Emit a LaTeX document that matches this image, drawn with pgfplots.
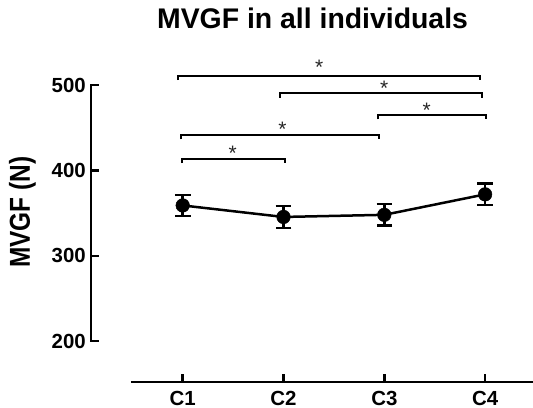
\documentclass[border=0pt]{standalone}
\usepackage{fontspec}
\setmainfont{Liberation Sans}
\usepackage{pgfplots}
\pgfplotsset{compat=1.18}

\begin{document}
\begin{tikzpicture}
\path[use as bounding box] (-91bp,-26bp) rectangle (442bp,382bp);
\begin{axis}[
    at={(0,0)}, anchor=south west,
    scale only axis,
    width=442.5bp, height=322.4bp,
    xmin=0.0903, xmax=4.48,
    ymin=152, ymax=530,
    clip=false,
    axis line style={draw=none},
    xtick pos=bottom, ytick pos=left,
    tick align=inside,
    major tick length=8bp,
    tick style={black, line width=2.5bp},
    xtick={1,2,3,4},
    xticklabels={C1,C2,C3,C4},
    ytick={200,300,400,500},
    /pgf/number format/assume math mode=true,
    ticklabel style={font=\fontsize{20.5}{24}\selectfont\bfseries, inner sep=0pt},
    yticklabel style={xshift=-5bp},
    xticklabel style={yshift=-9bp},
    title={MVGF in all individuals},
    title style={at={(0.5006,1.0785)}, anchor=base, font=\fontsize{28.5}{34}\selectfont\bfseries},
    ylabel={\scalebox{1}[1.18]{MVGF (N)}},
    ylabel style={at={(-0.155,0.527)}, anchor=center, font=\fontsize{24.5}{28}\selectfont\bfseries},
]
% axis lines (offset, GraphPad style)
\draw[black, line width=2.7bp, line cap=rect] (axis cs:0.0903,200) -- (axis cs:0.0903,500);
\draw[black, line width=2.7bp] (axis cs:0.487,152) -- (axis cs:4.48,152);

% means with error bars
\addplot[black, line width=2.5bp, mark=*, mark size=6.8bp,
    mark options={fill=black, line width=0.5bp},
    error bars/.cd, y dir=both, y explicit,
    error bar style={line width=2.5bp},
    error mark=|,
    error mark options={line width=2.2bp, mark size=7.8bp}]
coordinates {
    (1,359) +- (0,12.5)
    (2,345.5) +- (0,12.5)
    (3,348) +- (0,12.5)
    (4,372) +- (0,12.8)
};

% significance brackets
\addplot[black, line width=2bp, mark=none] coordinates {(0.956,506) (0.956,511) (3.949,511) (3.949,506)};
\addplot[black, line width=2bp, mark=none] coordinates {(1.965,485.3) (1.965,490.3) (3.969,490.3) (3.969,485.3)};
\addplot[black, line width=2bp, mark=none] coordinates {(2.937,459.8) (2.937,464.8) (4.006,464.8) (4.006,459.8)};
\addplot[black, line width=2bp, mark=none] coordinates {(0.983,436.4) (0.983,441.4) (2.947,441.4) (2.947,436.4)};
\addplot[black, line width=2bp, mark=none] coordinates {(0.993,408.5) (0.993,413.5) (2.015,413.5) (2.015,408.5)};

\begin{scope}[every node/.style={anchor=north, inner sep=0pt, font=\fontsize{21}{24}\selectfont, text=black!85}]
\node at (axis cs:2.355,529.3) {*};
\node at (axis cs:3.0,505.5) {*};
\node at (axis cs:3.42,479.7) {*};
\node at (axis cs:1.99,457.3) {*};
\node at (axis cs:1.496,428.8) {*};
\end{scope}
\end{axis}
\end{tikzpicture}
\end{document}
